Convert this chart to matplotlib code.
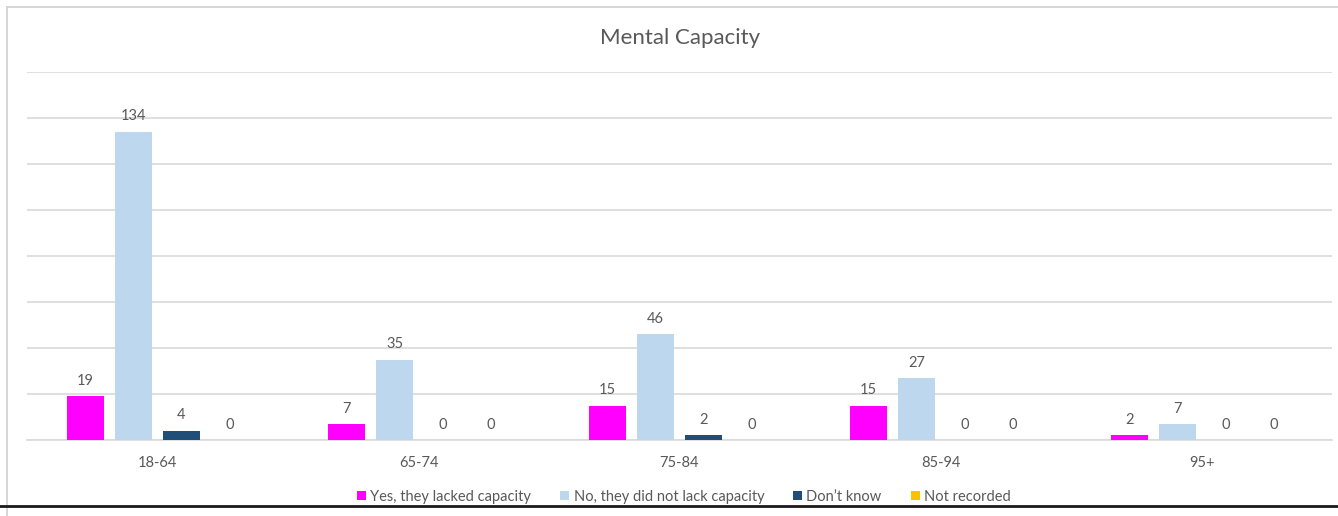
import matplotlib
matplotlib.use("Agg")
import matplotlib.pyplot as plt
from matplotlib.lines import Line2D
import numpy as np

plt.rcParams['font.family'] = ['Lato', 'DejaVu Sans']

# age bands and counts per answer
age_bands = ["18-64", "65-74", "75-84", "85-94", "95+"]
series_names = ["Yes, they lacked capacity", "No, they did not lack capacity",
                "Don\u2019t know", "Not recorded"]
lacked = [19, 7, 15, 15, 2]
not_lacked = [134, 35, 46, 27, 7]
dont_know = [4, 0, 2, 0, 0]
not_recorded = [0, 0, 0, 0, 0]
colours = ["#FF00FF", "#BDD7EE", "#1F4E79", "#FFC000"]

text_grey = "#595959"
grid_grey = "#D9D9D9"

fig = plt.figure(figsize=(13.38, 5.16), dpi=100)
ax = fig.add_axes([27 / 1338, 1 - 440 / 516, 1305 / 1338, 368 / 516])

x = np.arange(len(age_bands))
step = 48 / 261
width = 37 / 261
for i, (vals, name, col) in enumerate(zip([lacked, not_lacked, dont_know, not_recorded],
                                          series_names, colours)):
    pos = x + (i - 1.5) * step
    bars = ax.bar(pos, vals, width, color=col, label=name, zorder=3)
    for b, v in zip(bars, vals):
        ax.annotate(str(v), (b.get_x() + b.get_width() / 2, v),
                    xytext=(0, 6), textcoords="offset points",
                    ha="center", va="bottom", fontsize=10.5, color=text_grey)

ax.set_xlim(-0.5, len(age_bands) - 0.5)
ax.set_ylim(0, 160)
ax.set_yticks(np.arange(0, 161, 20))
ax.yaxis.grid(True, color=grid_grey, linewidth=1.2)
ax.set_axisbelow(True)
ax.tick_params(axis="y", left=False, labelleft=False)
ax.set_xticks(x)
ax.set_xticklabels(age_bands, fontsize=10.5, color=text_grey)
ax.tick_params(axis="x", length=0, pad=11.5)
for s in ["top", "right", "left"]:
    ax.spines[s].set_visible(False)
ax.spines["bottom"].set_color(grid_grey)
ax.spines["bottom"].set_linewidth(1.2)

fig.text(680 / 1338, 1 - 38 / 516, "Mental Capacity", ha="center", va="center",
         fontsize=16, color=text_grey)

fig.legend(loc="center", bbox_to_anchor=(684 / 1338, 1 - 497 / 516), ncol=4,
           frameon=False, fontsize=10.5, handlelength=0.6, handleheight=0.6,
           handletextpad=0.3, columnspacing=2.0, labelcolor=text_grey)

# chart frame and the rule below it
fig.add_artist(Line2D([7 / 1338, 7 / 1338], [0, 1 - 7 / 516], transform=fig.transFigure,
                      color="#D0D0D0", linewidth=1.2))
fig.add_artist(Line2D([7 / 1338, 1], [1 - 7 / 516, 1 - 7 / 516], transform=fig.transFigure,
                      color="#D0D0D0", linewidth=1.2))
fig.add_artist(Line2D([0, 1], [1 - 506 / 516, 1 - 506 / 516], transform=fig.transFigure,
                      color="#1A1A1A", linewidth=2.0))

fig.savefig("out.png", dpi=100, facecolor="white")
